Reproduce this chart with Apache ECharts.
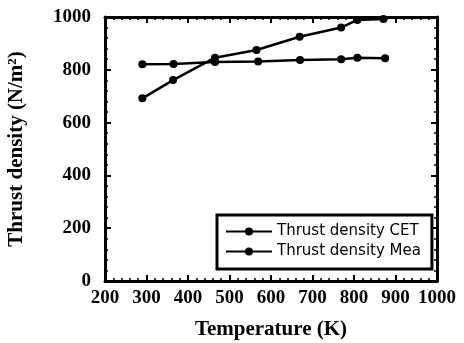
<!DOCTYPE html>
<html>
<head>
<meta charset="utf-8" />
<title></title>
<script type="text/javascript" src="https://cdn.jsdelivr.net/npm/echarts@6/dist/echarts.min.js"></script>
</head>
<body style="margin:0;background:#fff;">
<div id="main" style="width:464px;height:343px;"></div>
<script>
// thrust density vs temperature
var cetTemp = [290, 365, 465, 569, 670, 769, 808, 875];
var cetVal = [821, 822, 830, 831, 837, 840, 846, 844];
var meaTemp = [290, 364, 465, 565, 669, 769, 808, 871];
var meaVal = [692, 761, 846, 875, 925, 960, 989, 992];
var names = ['Thrust density CET', 'Thrust density Mea'];

function pairs(xs, ys) {
	var out = [];
	for (var i = 0; i < xs.length; i++) out.push([xs[i], ys[i]]);
	return out;
}

var serif = 'Liberation Serif';
var axisLine = { show: true, onZero: false, lineStyle: { color: '#000', width: 3 } };
var tick = { show: true, inside: true, length: 6, lineStyle: { color: '#000', width: 2 } };
var minor = { show: true, splitNumber: 5, length: 3, lineStyle: { color: '#000', width: 1.5 } };
var plain = function (v) { return String(v); };

var myChart = echarts.init(document.getElementById('main'));
var option = {
	animation: false,
	backgroundColor: '#fff',
	grid: { left: 105, right: 27, top: 17, bottom: 62, outerBoundsMode: 'none' },
	legend: {
		orient: 'vertical',
		left: 217,
		top: 215,
		padding: [9, 11, 10, 8],
		itemGap: 5,
		itemWidth: 46,
		itemHeight: 10,
		backgroundColor: '#fff',
		borderColor: '#000',
		borderWidth: 3,
		borderRadius: 0,
		data: names,
		textStyle: { fontFamily: 'DejaVu Sans', fontSize: 15, color: '#000' }
	},
	xAxis: [{
		type: 'value',
		min: 200, max: 1000, interval: 100,
		name: 'Temperature (K)',
		nameLocation: 'middle',
		nameGap: 38,
		nameTextStyle: { fontFamily: serif, fontWeight: 'bold', fontSize: 21, color: '#000' },
		axisLine: axisLine, axisTick: tick, minorTick: minor,
		splitLine: { show: false },
		axisLabel: { margin: 8, formatter: plain, fontFamily: serif, fontWeight: 'bold', fontSize: 19, color: '#000' }
	}, {
		type: 'value', position: 'top',
		min: 200, max: 1000, interval: 100,
		axisLine: axisLine, axisTick: tick, minorTick: minor,
		splitLine: { show: false }, axisLabel: { show: false }
	}],
	yAxis: [{
		type: 'value',
		min: 0, max: 1000, interval: 200,
		name: 'Thrust density (N/m²)',
		nameLocation: 'middle',
		nameGap: 78,
		nameTextStyle: { fontFamily: serif, fontWeight: 'bold', fontSize: 21, color: '#000' },
		axisLine: axisLine, axisTick: tick, minorTick: minor,
		splitLine: { show: false },
		axisLabel: { margin: 14, formatter: plain, fontFamily: serif, fontWeight: 'bold', fontSize: 19, color: '#000' }
	}, {
		type: 'value', position: 'right',
		min: 0, max: 1000, interval: 200,
		axisLine: axisLine, axisTick: tick, minorTick: minor,
		splitLine: { show: false }, axisLabel: { show: false }
	}],
	series: [{
		name: names[0],
		type: 'line',
		symbol: 'circle',
		symbolSize: 8,
		itemStyle: { color: '#000' },
		lineStyle: { color: '#000', width: 2.5 },
		data: pairs(cetTemp, cetVal)
	}, {
		name: names[1],
		type: 'line',
		symbol: 'circle',
		symbolSize: 8,
		itemStyle: { color: '#000' },
		lineStyle: { color: '#000', width: 2.5 },
		data: pairs(meaTemp, meaVal)
	}]
};
myChart.setOption(option);
</script>
</body>
</html>
